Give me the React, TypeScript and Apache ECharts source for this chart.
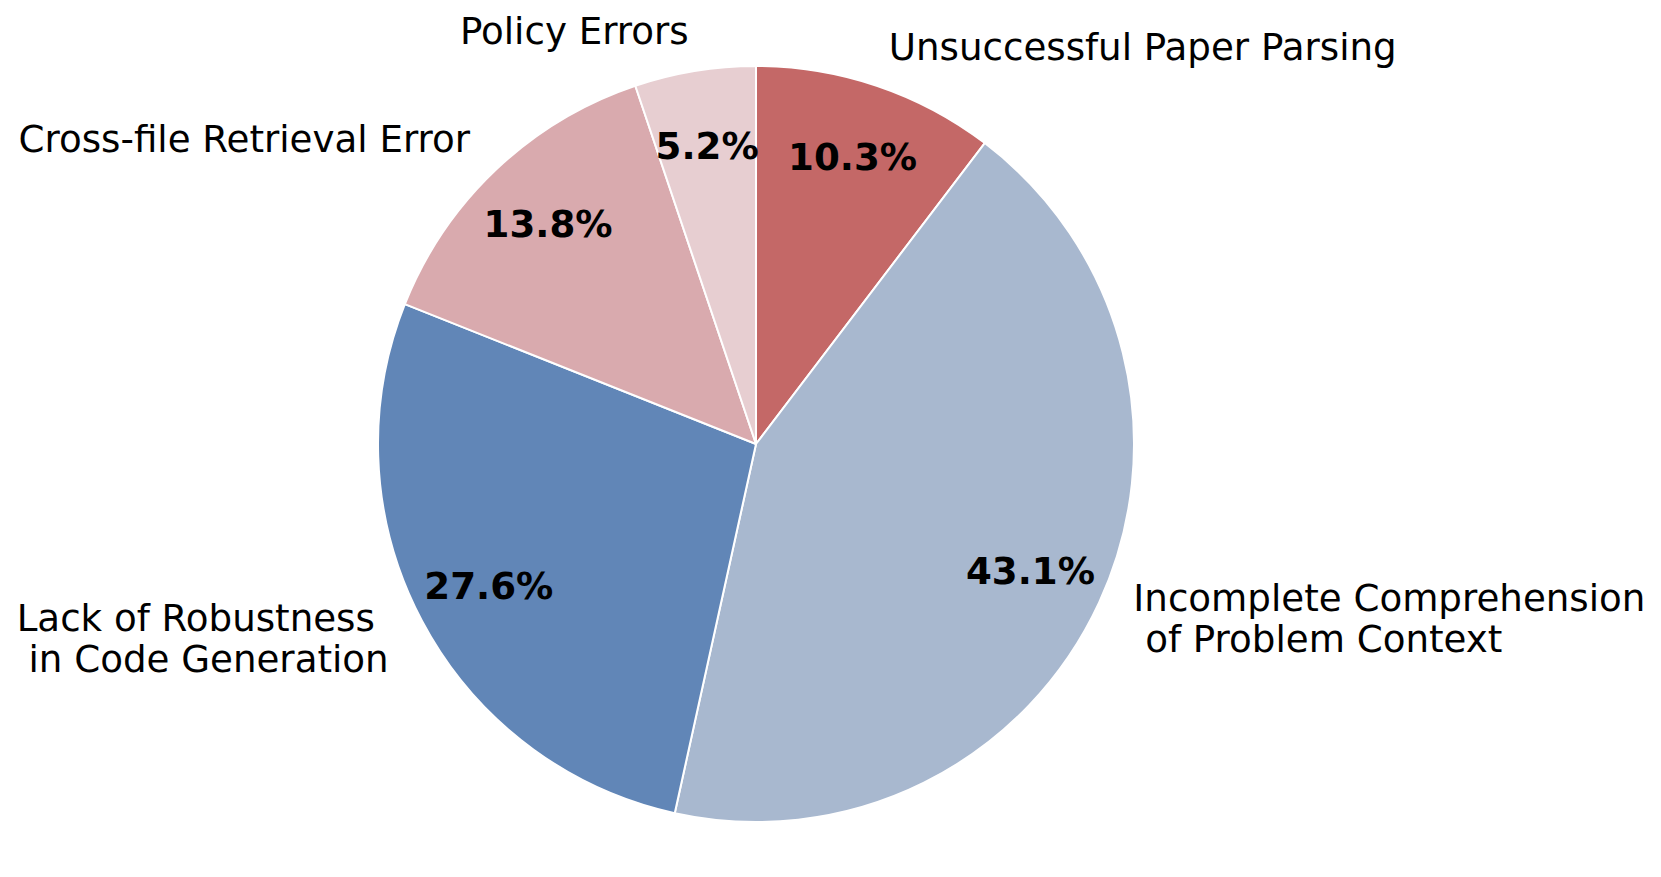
import React, { useEffect, useRef } from "react";
import * as echarts from "echarts";

const categories = [
  "Unsuccessful Paper Parsing",
  "Incomplete Comprehension\nof Problem Context",
  "Lack of Robustness\nin Code Generation",
  "Cross-file Retrieval Error",
  "Policy Errors",
];
const counts = [6, 25, 16, 8, 3];
const colors = ["#C46867", "#A8B8CF", "#6186B7", "#D9AAAE", "#E7CED1"];

const FONT = "DejaVu Sans";
const FS = 37.2;
const LH = 41;
const CX = 756;
const CY = 444;
const R = 378;

function nameLabel(name: string): string {
  const lines = name.split("\n");
  if (lines.length === 1) return `{s|${lines[0]}}`;
  return lines.map((l, i) => (i === 0 ? `{l|${l}}` : `{p|${l}}`)).join("\n");
}

export default function App() {
  const ref = useRef<HTMLDivElement>(null);
  useEffect(() => {
    if (!ref.current) return;
    const chart = echarts.init(ref.current, null, { renderer: "svg" });
    const data = categories.map((c, i) => ({
      name: c,
      value: counts[i],
      itemStyle: { color: colors[i] },
    }));
    const overlay = categories.map((c, i) => ({ name: c, value: counts[i] }));
    const base = { fontFamily: FONT, fontSize: FS, lineHeight: LH, color: "#000" };
    chart.setOption({
      animation: false,
      backgroundColor: "#ffffff",
      series: [
        {
          type: "pie",
          center: [CX, CY],
          radius: [0, R],
          startAngle: 90,
          clockwise: true,
          avoidLabelOverlap: false,
          percentPrecision: 1,
          data,
          itemStyle: { borderColor: "#ffffff", borderWidth: 2 },
          label: {
            show: true,
            position: "outside",
            distanceToLabelLine: 0,
            formatter: (p: any) => nameLabel(p.name),
            ...base,
            rich: {
              s: { ...base, align: "left", padding: [0, 0, 6, 0] },
              l: { ...base, align: "left" },
              p: { ...base, align: "left", padding: [0, 0, 0, 11.8] },
            },
          },
          labelLine: { show: false, length: R * 0.1, length2: 0 },
          emphasis: { disabled: true },
        },
        {
          type: "pie",
          center: [CX, CY],
          radius: [R * 0.8 * 2 - R - 6, R],
          startAngle: 90,
          clockwise: true,
          avoidLabelOverlap: false,
          percentPrecision: 1,
          silent: true,
          data: overlay,
          itemStyle: { color: "rgba(0,0,0,0)", borderWidth: 0 },
          label: {
            show: true,
            position: "inner",
            formatter: "{d}%",
            color: "#000",
            fontFamily: FONT,
            fontWeight: "bold",
            fontSize: FS,
          },
          labelLine: { show: false },
          emphasis: { disabled: true },
        },
      ],
    });
    return () => chart.dispose();
  }, []);
  return (
    <div
      ref={ref}
      style={{ position: "absolute", left: 0, top: 0, width: 1661, height: 877 }}
    />
  );
}
